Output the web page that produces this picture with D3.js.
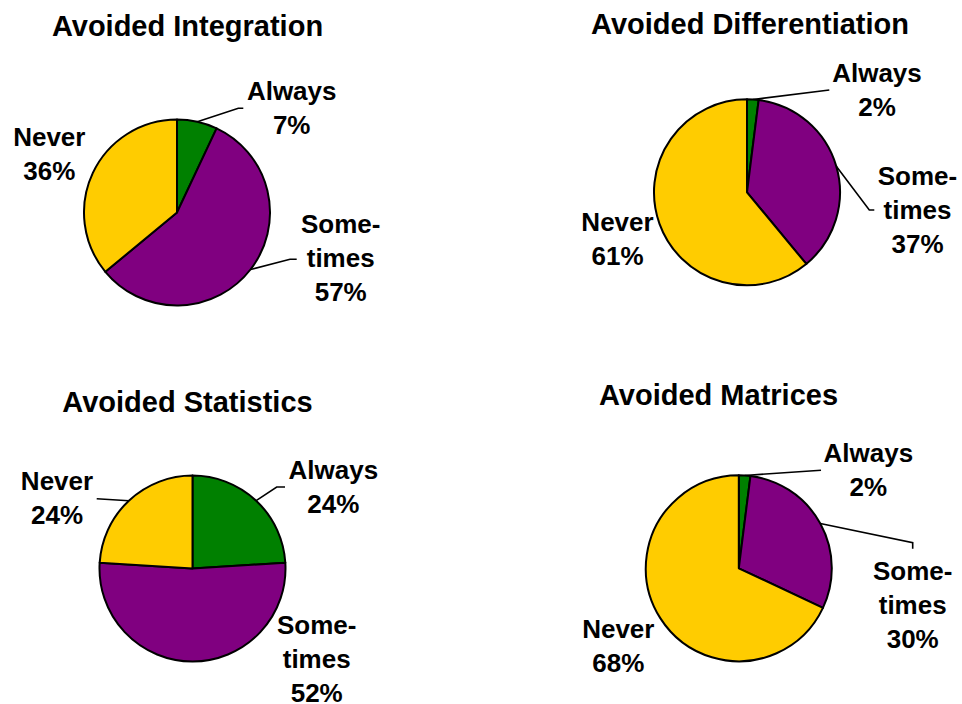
<!DOCTYPE html>
<html>
<head>
<meta charset="utf-8">
<script src="https://cdn.jsdelivr.net/npm/d3@7"></script>
<style>
  html, body { margin: 0; padding: 0; background: #ffffff; }
  svg { display: block; }
  text { font-family: "Liberation Sans", Arial, sans-serif; font-weight: bold; fill: #000; }
</style>
</head>
<body>
<svg id="chart" width="962" height="704"></svg>
<script>
// ---- data ----
const titles = ["Avoided Integration", "Avoided Differentiation", "Avoided Statistics", "Avoided Matrices"];
const categories = ["Always", "Sometimes", "Never"];
const categoryLines = [["Always"], ["Some-", "times"], ["Never"]];
const integrationValues = [7, 57, 36];
const differentiationValues = [2, 37, 61];
const statisticsValues = [24, 52, 24];
const matricesValues = [2, 30, 68];
const seriesValues = [integrationValues, differentiationValues, statisticsValues, matricesValues];

// ---- styling / layout ----
const colors = ["#008000", "#800080", "#FFCC00"];
const radius = 93;
const lineHeight = 34;
const panels = [
  { cx: 177, cy: 212.5, title: [187.5, 36],
    labels: [[291.7, 100], [340.7, 233.3], [49.3, 146]],
    leaders: [[[238.3, 108.3], [243.3, 108.3]], [[290, 259.3], [296.7, 259.3]], null] },
  { cx: 747, cy: 192.3, title: [750, 33.5],
    labels: [[877, 81.7], [917.5, 185], [617.5, 230.7]],
    leaders: [[[829.3, 90]], [[869.3, 210], [874.3, 210]], null] },
  { cx: 192.5, cy: 568.5, title: [187.5, 412],
    labels: [[333.3, 478.7], [316.7, 633.7], [57, 490.3]],
    leaders: [[[276.7, 487], [285, 487]], null, [[96.7, 498.7]]] },
  { cx: 738.8, cy: 568.3, title: [718.5, 405.3],
    labels: [[868.3, 462], [912.7, 579.7], [618.3, 637.7]],
    leaders: [[[821, 470.3]], [[912.7, 542.7], [912.7, 548.7]], null] }
];

const svg = d3.select("#chart");
const pie = d3.pie().sort(null).value(d => d);
const arc = d3.arc().innerRadius(0).outerRadius(radius);
const edge = d3.arc().innerRadius(radius).outerRadius(radius);
const line = d3.line();

panels.forEach((p, i) => {
  const vals = seriesValues[i];
  const arcs = pie(vals);

  // title
  svg.append("text")
    .attr("x", p.title[0]).attr("y", p.title[1])
    .attr("text-anchor", "middle")
    .attr("font-size", 29)
    .text(titles[i]);

  // leader lines (drawn under the pie)
  arcs.forEach((a, j) => {
    const pts = p.leaders[j];
    if (!pts) return;
    const c = edge.centroid(a);
    const start = [p.cx + c[0], p.cy + c[1]];
    svg.append("path")
      .attr("d", line([start, ...pts]))
      .attr("fill", "none")
      .attr("stroke", "#000")
      .attr("stroke-width", 1.6);
  });

  // slices
  const g = svg.append("g").attr("transform", `translate(${p.cx},${p.cy})`);
  g.selectAll("path.slice")
    .data(arcs)
    .join("path")
    .attr("class", "slice")
    .attr("d", arc)
    .attr("fill", (d, j) => colors[j])
    .attr("stroke", "#000")
    .attr("stroke-width", 2)
    .attr("stroke-linejoin", "round");

  // labels
  arcs.forEach((a, j) => {
    const lines = categoryLines[j].concat([vals[j] + "%"]);
    const t = svg.append("text")
      .attr("text-anchor", "middle")
      .attr("font-size", 26)
      .attr("aria-label", categories[j]);
    lines.forEach((s, k) => {
      t.append("tspan")
        .attr("x", p.labels[j][0])
        .attr("y", p.labels[j][1] + k * lineHeight)
        .text(s);
    });
  });
});
</script>
</body>
</html>
